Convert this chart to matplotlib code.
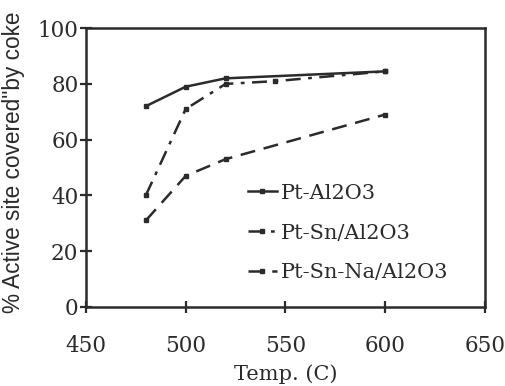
import matplotlib
matplotlib.use("Agg")
import matplotlib.pyplot as plt

temps_al = [480, 500, 520, 600]
pt_al2o3 = [72, 79, 82, 84.5]
temps_sn = [480, 500, 520, 545, 600]
pt_sn = [40, 71, 80, 81, 84.5]
temps_na = [480, 500, 520, 600]
pt_sn_na = [31, 47, 53, 69]
labels = ["Pt-Al2O3", "Pt-Sn/Al2O3", "Pt-Sn-Na/Al2O3"]

col = "#2b2b2b"
fig = plt.figure(figsize=(5.06, 3.86), dpi=100)
ax = fig.add_axes([0.170, 0.205, 0.788, 0.722])

ax.plot(temps_al, pt_al2o3, color=col, lw=1.8, ls="-", marker="s", ms=3, label=labels[0])
ax.plot(temps_sn, pt_sn, color=col, lw=1.8, ls=(0, (6, 3, 1.5, 3)), marker="s", ms=2.5, label=labels[1])
ax.plot(temps_na, pt_sn_na, color=col, lw=1.8, ls=(0, (6, 3.5)), marker="s", ms=2.5, label=labels[2])

ax.set_xlim(450, 650)
ax.set_ylim(0, 100)
ax.set_xticks([450, 500, 550, 600, 650])
ax.set_yticks([0, 20, 40, 60, 80, 100])
for s in ax.spines.values():
    s.set_linewidth(1.8)
    s.set_color(col)
ax.tick_params(direction="inout", length=9, width=1.6, color=col, labelcolor=col)
for lab in ax.get_xticklabels() + ax.get_yticklabels():
    lab.set_fontfamily("DejaVu Serif")
    lab.set_fontsize(15.5)
ax.tick_params(axis="x", pad=16)
ax.tick_params(axis="y", pad=1)

ax.set_xlabel("Temp. (C)", fontfamily="DejaVu Serif", fontsize=15, color=col)
ax.xaxis.set_label_coords(0.5, -0.205)
ax.set_ylabel("% Active site covered\"by coke", fontfamily="Liberation Sans", fontsize=16.3, color=col)
ax.yaxis.set_label_coords(-0.152, 0.52)

leg = ax.legend(loc="center left", bbox_to_anchor=(0.405, 0.265), frameon=False,
                handlelength=1.4, handletextpad=0.2, labelspacing=1.0,
                borderaxespad=0, borderpad=0,
                prop={"family": "DejaVu Serif", "size": 15})
for t in leg.get_texts():
    t.set_color(col)

fig.savefig("out.png", dpi=100, facecolor="white")
